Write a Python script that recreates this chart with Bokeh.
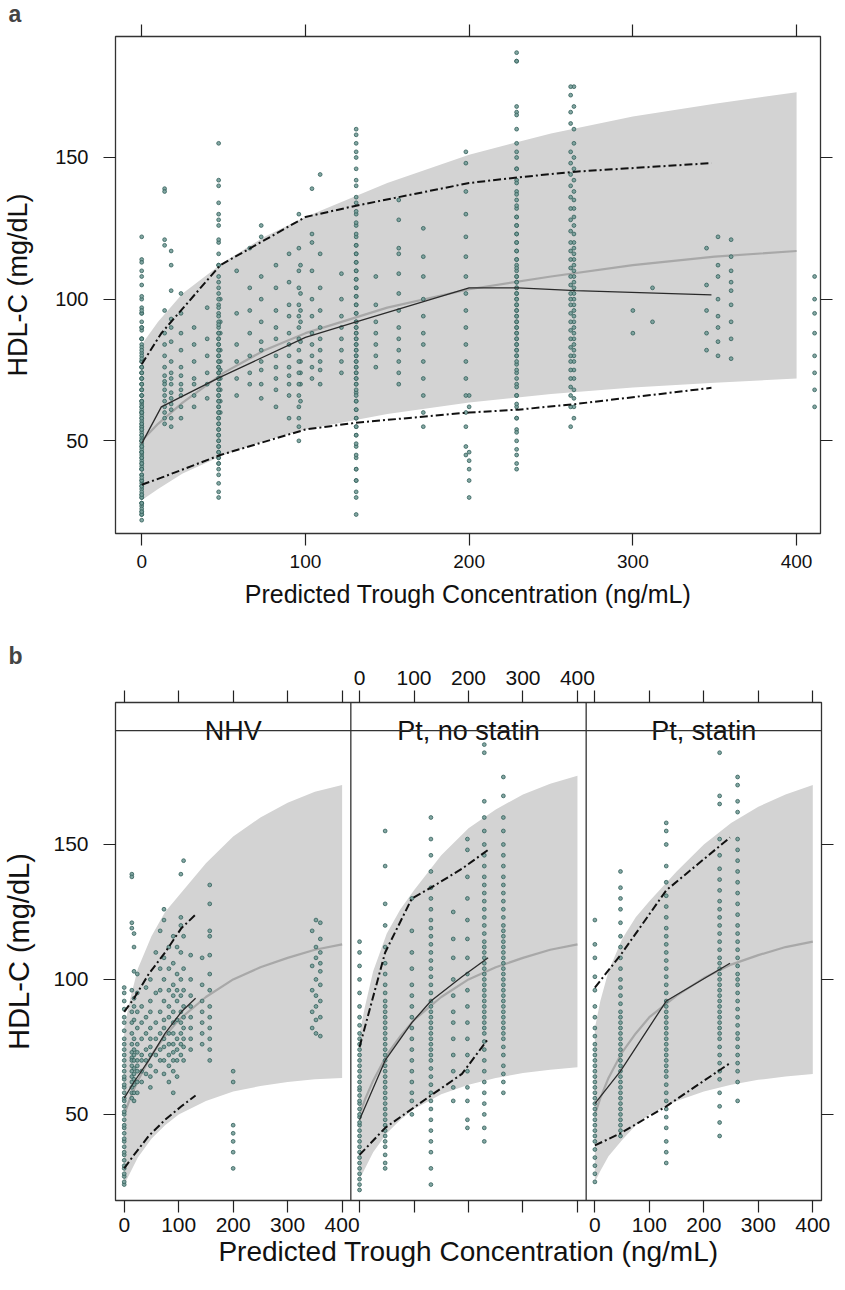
from bokeh.plotting import figure
from bokeh.models import Range1d, LinearAxis, FixedTicker, Span
from bokeh.layouts import column
from bokeh.embed import file_html
from bokeh.resources import INLINE
from bokeh.core.properties import value

FONT = "Liberation Sans"

# ------------------------------------------------------------------ data
Y_TICKS = [50, 100, 150]
X_TICKS = [0, 100, 200, 300, 400]
X_TICK_LABELS = ["0", "100", "200", "300", "400"]
GROUPS = ["NHV", "Pt, no statin", "Pt, statin"]

# observed HDL-C by trough concentration column (ng/mL -> list of mg/dL)
NHV_CONC = [0, 14, 18, 24, 32, 40, 48, 58, 66, 73, 82, 90, 97, 104, 109, 122, 143, 157, 200, 345, 352, 360]
NHV_HDL = [
    [24, 25, 27, 28, 30, 31, 33, 35, 36, 38, 40, 41, 43, 45, 46, 48, 50, 51, 53, 55, 56, 58, 60, 61, 63, 64, 66, 68, 70, 72, 74, 76, 78, 81, 84, 86, 89, 92, 95, 97],
    [139, 138, 121, 119, 96, 88, 84, 80, 76, 73, 71, 70, 68, 66, 64, 62, 60, 58, 56],
    [117, 112, 103, 93, 90, 85, 78, 74, 72, 70, 67, 65, 63, 61, 58, 55],
    [102, 95, 88, 82, 76, 73, 70, 68, 66, 62, 58],
    [90, 84, 78, 72, 70, 66, 62],
    [97, 86, 80, 74, 70, 65],
    [100, 92, 88, 82, 78, 75, 72, 68, 64, 60],
    [110, 95, 84, 78, 72, 66],
    [118, 104, 96, 88, 80, 74, 70],
    [126, 122, 108, 100, 92, 85, 82, 78, 75, 70, 65],
    [112, 104, 96, 90, 86, 80, 76, 72, 68, 62],
    [116, 106, 98, 94, 88, 84, 80, 76, 73, 70, 66, 58],
    [112, 102, 96, 92, 85, 78, 74, 70, 64],
    [139, 123, 120, 110, 100, 94, 88, 84, 80, 76, 72],
    [144, 116, 104, 96, 90, 86, 82, 78, 75, 70],
    [109, 100, 94, 90, 86, 82, 78, 74],
    [108, 98, 92, 88, 84, 80, 76],
    [135, 128, 118, 116, 109, 102, 96, 90, 86, 82, 78, 74, 70],
    [66, 62, 46, 43, 40, 36, 30],
    [118, 105, 96, 88, 82],
    [122, 112, 108, 100, 94, 90, 85, 80],
    [121, 115, 110, 106, 103, 98, 92, 86, 79],
]

NOST_CONC = [0, 47, 96, 131, 172, 198, 229, 264]
NOST_HDL = [
    [22, 24, 26, 28, 30, 32, 34, 36, 38, 40, 42, 44, 46, 47, 49, 50, 52, 54, 55, 57, 59, 60, 62, 64, 66, 68, 70, 72, 74, 76, 78, 80, 83, 86, 90, 95, 100, 105, 110, 114],
    [155, 142, 128, 120, 112, 106, 102, 98, 95, 92, 90, 88, 86, 84, 82, 80, 78, 76, 74, 72, 70, 68, 66, 64, 62, 60, 58, 56, 54, 52, 50, 48, 46, 44, 42, 40, 38, 35, 32, 30],
    [130, 118, 110, 104, 98, 94, 90, 86, 82, 78, 74, 70, 66, 62, 58, 55, 50],
    [160, 152, 146, 140, 134, 130, 126, 122, 119, 116, 113, 110, 107, 104, 101, 98, 95, 92, 90, 88, 86, 84, 82, 80, 78, 76, 74, 72, 70, 67, 64, 61, 58, 55, 52, 48, 44, 40, 36, 30, 24],
    [125, 115, 108, 100, 94, 88, 84, 78, 72, 66, 60, 55],
    [152, 148, 138, 130, 122, 115, 108, 102, 96, 90, 84, 78, 72, 66, 60, 55, 48, 45],
    [187, 184, 166, 160, 155, 150, 146, 142, 138, 135, 132, 129, 126, 123, 120, 117, 114, 112, 110, 108, 106, 104, 102, 100, 98, 96, 94, 92, 90, 88, 86, 84, 82, 80, 77, 74, 70, 66, 62, 58, 54, 50, 45, 40],
    [175, 168, 160, 155, 150, 146, 142, 138, 135, 132, 129, 126, 123, 120, 118, 116, 114, 112, 110, 108, 106, 104, 102, 100, 98, 96, 94, 92, 90, 88, 86, 84, 82, 80, 78, 75, 72, 68, 65, 62, 58],
]

STAT_CONC = [0, 47, 131, 229, 262]
STAT_HDL = [
    [25, 28, 31, 34, 37, 40, 42, 44, 46, 48, 50, 52, 54, 56, 58, 60, 62, 64, 66, 68, 70, 72, 74, 76, 79, 82, 86, 90, 96, 101, 108, 113, 122],
    [140, 134, 130, 126, 121, 116, 112, 108, 104, 100, 97, 94, 91, 88, 86, 84, 82, 80, 78, 76, 74, 72, 70, 68, 66, 64, 62, 60, 58, 56, 54, 52, 50, 48, 46, 44, 42],
    [158, 155, 150, 142, 136, 131, 127, 123, 119, 116, 113, 110, 107, 104, 101, 98, 95, 92, 90, 88, 86, 84, 82, 80, 78, 76, 74, 72, 70, 68, 66, 64, 61, 58, 55, 52, 49, 45, 40, 36, 32],
    [184, 168, 165, 152, 146, 141, 137, 133, 129, 126, 123, 120, 117, 114, 111, 108, 106, 104, 102, 100, 98, 96, 94, 92, 90, 88, 86, 84, 82, 80, 78, 75, 72, 69, 66, 63, 58, 53, 47, 42],
    [175, 172, 166, 162, 152, 148, 144, 140, 136, 132, 128, 124, 120, 117, 114, 111, 108, 105, 102, 100, 98, 95, 92, 89, 86, 83, 80, 78, 75, 72, 69, 66, 62, 55],
]

# points shown only in the pooled panel
EXTRA_CONC = [300, 312, 411]
EXTRA_HDL = [[96, 88], [104, 92], [108, 100, 95, 88, 80, 74, 68, 62]]

# model-predicted median and 90% prediction interval
BAND_CONC = [0, 10, 25, 50, 75, 100, 150, 200, 250, 300, 350, 400]
ALL_LO = [29, 33, 38.5, 45, 50, 54, 59.5, 63.5, 66.5, 68.8, 70.5, 72]
ALL_MED = [50, 56, 63.5, 74, 82, 88, 97, 103.5, 108, 112, 115, 117]
ALL_HI = [84, 92, 102, 113, 122, 129, 141, 151, 158.5, 164.5, 169, 173]
NHV_LO = [24, 28, 34, 41, 46, 50, 55, 58.5, 60.5, 62, 63, 63.5]
NHV_MED = [50, 55.5, 62.5, 72, 79, 85, 93.5, 100, 104.5, 108, 111, 113]
NHV_HI = [82, 92, 104, 116, 125, 131, 143, 153, 160, 165.5, 169.5, 172]
NOST_LO = [26, 30, 36, 43, 48, 52, 57.5, 61, 63.5, 65.3, 66.5, 67.5]
NOST_MED = [50, 55.5, 62.5, 72, 79, 85, 93.5, 100, 104.5, 108, 111, 113]
NOST_HI = [80, 90, 103, 117, 126, 133, 146, 156, 163, 168.5, 172.5, 175.5]
STAT_LO = [25, 29, 34.5, 40.5, 46, 50, 55, 58.5, 61, 62.8, 64, 65]
STAT_MED = [50, 56, 63.5, 73, 80, 86, 94, 100.5, 105.5, 109, 112, 114]
STAT_HI = [82, 92, 103, 115, 123, 129, 140, 150, 158, 164, 168.5, 172]

# observed 5th / 50th / 95th percentiles by concentration bin
ALL_OBS_CONC = [0, 12, 48, 100, 131, 200, 230, 265, 348]
ALL_P05 = [34.5, 37, 45, 54, 56.4, 60, 61, 63, 68.7]
ALL_P50 = [49, 62, 72.5, 86.5, 92, 104, 104, 103, 101.5]
ALL_P95 = [77, 88, 112, 129, 133, 141, 143, 145, 148]
NHV_OBS_CONC = [0, 18, 45, 75, 105, 131]
NHV_P05 = [30, 35, 42, 48, 53, 57]
NHV_P50 = [56, 62, 70, 80, 88, 93]
NHV_P95 = [88, 93, 102, 110, 119, 124]
NOST_OBS_CONC = [0, 47, 96, 131, 188, 236]
NOST_P05 = [35, 45, 52, 57, 65, 78]
NOST_P50 = [48, 70, 84, 92, 101, 108]
NOST_P95 = [75, 110, 130, 134, 141, 148]
STAT_OBS_CONC = [0, 47, 131, 248]
STAT_P05 = [38.5, 43, 53, 69]
STAT_P50 = [54, 66, 92, 106]
STAT_P95 = [97, 109, 133, 152.6]

# ------------------------------------------------------------------ styles
PT_FILL = "#769d99"
PT_LINE = "#33605b"
BAND = "#d3d3d3"
MED_COL = "#a8a8a8"
OBS_COL = "#2a2a2a"
DASH_COL = "#111111"
DASH = "8 3 2 3"


def flatten(concs, hdls, shift=0.0):
    xs, ys = [], []
    for c, col in zip(concs, hdls):
        for h in col:
            xs.append(c + shift)
            ys.append(h)
    return xs, ys


def style_axis(ax, size, show_labels=True, standoff=6):
    ax.axis_line_color = None
    ax.major_tick_in = 0
    ax.major_tick_out = 12
    ax.major_tick_line_color = "#222222"
    ax.major_tick_line_width = 1.2
    ax.minor_tick_line_color = None
    ax.major_label_text_font = FONT
    ax.major_label_text_color = "#111111"
    if show_labels:
        ax.major_label_text_font_size = size
        ax.major_label_standoff = standoff
    else:
        ax.major_label_text_font_size = "1px"
        ax.major_label_text_color = None
        ax.major_label_standoff = 0
    ax.axis_label_text_font = FONT
    ax.axis_label_text_font_style = "normal"
    ax.axis_label_text_color = "#111111"


def draw_panel(p, shift, conc_lists, lo, med, hi, oc, p05, p50, p95, size=3.8):
    bx = [c + shift for c in BAND_CONC]
    p.varea(x=bx, y1=lo, y2=hi, fill_color=BAND, fill_alpha=1.0)
    p.line(bx, med, line_color=MED_COL, line_width=2.2)
    for concs, hdls, sh in conc_lists:
        xs, ys = flatten(concs, hdls, shift + sh)
        p.scatter(xs, ys, marker="circle", size=size, fill_color=PT_FILL,
                  line_color=PT_LINE, line_width=0.8, fill_alpha=0.9)
    ox = [c + shift for c in oc]
    p.line(ox, p50, line_color=OBS_COL, line_width=1.3)
    p.line(ox, p95, line_color=DASH_COL, line_width=2.0, line_dash=DASH)
    p.line(ox, p05, line_color=DASH_COL, line_width=2.0, line_dash=DASH)


# ------------------------------------------------------------------ panel a
pa = figure(width=835, height=620, x_range=Range1d(-16.0, 414.6), y_range=Range1d(17.3, 192.7),
            output_backend="svg", toolbar_location=None,
            x_axis_location=None, y_axis_location=None, title="a",
            min_border_left=114, min_border_right=15, min_border_top=36, min_border_bottom=87)
pa.title.text_font = FONT
pa.title.text_font_size = "23px"
pa.title.text_font_style = "bold"
pa.title.align = "left"
pa.title.offset = -107
pa.title.standoff = -5
pa.outline_line_color = "#333333"
pa.outline_line_width = 1.3
pa.grid.visible = False

ax = LinearAxis(ticker=FixedTicker(ticks=X_TICKS), axis_label="Predicted Trough Concentration (ng/mL)")
style_axis(ax, "19px", True, 9)
ax.axis_label_text_font_size = "25px"
ax.axis_label_standoff = 9
pa.add_layout(ax, "below")
ax = LinearAxis(ticker=FixedTicker(ticks=X_TICKS))
style_axis(ax, "19px", False)
pa.add_layout(ax, "above")
ax = LinearAxis(ticker=FixedTicker(ticks=Y_TICKS), axis_label="HDL-C (mg/dL)")
style_axis(ax, "20px", True, 15)
ax.axis_label_text_font_size = "27px"
ax.axis_label_standoff = 19
pa.add_layout(ax, "left")
ax = LinearAxis(ticker=FixedTicker(ticks=Y_TICKS))
style_axis(ax, "20px", False)
pa.add_layout(ax, "right")

draw_panel(pa, 0.0,
           [(NHV_CONC, NHV_HDL, 0.0), (NOST_CONC, NOST_HDL, 0.0), (STAT_CONC, STAT_HDL, 0.0),
            (EXTRA_CONC, EXTRA_HDL, 0.0)],
           ALL_LO, ALL_MED, ALL_HI, ALL_OBS_CONC, ALL_P05, ALL_P50, ALL_P95)

# ------------------------------------------------------------------ panel b (three conditioned panels)
SPAN = 432.0
X_LO, X_HI = -16.0, 416.0
Y_LO, Y_STRIP, Y_HI = 18.1, 192.2, 202.6

pb = figure(width=836, height=654, x_range=Range1d(X_LO, X_HI + 2 * SPAN), y_range=Range1d(Y_LO, Y_HI),
            output_backend="svg", toolbar_location=None,
            x_axis_location=None, y_axis_location=None, title="b",
            min_border_left=114, min_border_right=12, min_border_top=82, min_border_bottom=74)
pb.title.text_font = FONT
pb.title.text_font_size = "23px"
pb.title.text_font_style = "bold"
pb.title.align = "left"
pb.title.offset = -107
pb.title.standoff = -2
pb.outline_line_color = "#333333"
pb.outline_line_width = 1.3
pb.grid.visible = False

all_ticks = [t + k * SPAN for k in range(3) for t in X_TICKS]
bottom_over = {}
top_over = {}
for k in range(3):
    for t, lab in zip(X_TICKS, X_TICK_LABELS):
        key = t + k * SPAN
        bottom_over[key] = "" if k == 1 else lab
        top_over[key] = lab if k == 1 else ""

ax = LinearAxis(ticker=FixedTicker(ticks=all_ticks), axis_label="Predicted Trough Concentration (ng/mL)",
                major_label_overrides=bottom_over)
style_axis(ax, "21px", True, 5)
ax.axis_label_text_font_size = "28px"
ax.axis_label_standoff = 1
pb.add_layout(ax, "below")
ax = LinearAxis(ticker=FixedTicker(ticks=all_ticks), major_label_overrides=top_over)
style_axis(ax, "21px", True, 6)
pb.add_layout(ax, "above")
ax = LinearAxis(ticker=FixedTicker(ticks=Y_TICKS), axis_label="HDL-C (mg/dL)")
style_axis(ax, "21px", True, 15)
ax.axis_label_text_font_size = "29px"
ax.axis_label_standoff = 15
pb.add_layout(ax, "left")
ax = LinearAxis(ticker=FixedTicker(ticks=Y_TICKS))
style_axis(ax, "21px", False)
pb.add_layout(ax, "right")

panels = [
    (NHV_CONC, NHV_HDL, NHV_LO, NHV_MED, NHV_HI, NHV_OBS_CONC, NHV_P05, NHV_P50, NHV_P95),
    (NOST_CONC, NOST_HDL, NOST_LO, NOST_MED, NOST_HI, NOST_OBS_CONC, NOST_P05, NOST_P50, NOST_P95),
    (STAT_CONC, STAT_HDL, STAT_LO, STAT_MED, STAT_HI, STAT_OBS_CONC, STAT_P05, STAT_P50, STAT_P95),
]
for k, (cc, hh, lo, md, hi, oc, q05, q50, q95) in enumerate(panels):
    draw_panel(pb, k * SPAN, [(cc, hh, 0.0)], lo, md, hi, oc, q05, q50, q95)

# strips and panel separators
pb.add_layout(Span(location=Y_STRIP, dimension="width", line_color="#333333", line_width=1.3))
for k in (1, 2):
    pb.add_layout(Span(location=X_LO + k * SPAN, dimension="height", line_color="#333333", line_width=1.3))
pb.text(x=[(X_LO + X_HI) / 2 + k * SPAN for k in range(3)], y=[Y_STRIP] * 3, text=GROUPS,
        text_align="center", text_baseline="alphabetic", text_font=value(FONT),
        text_font_size="27px", text_color="#111111")

layout = column(pa, pb, spacing=0)
open("out.html", "w").write(file_html(layout, INLINE))
